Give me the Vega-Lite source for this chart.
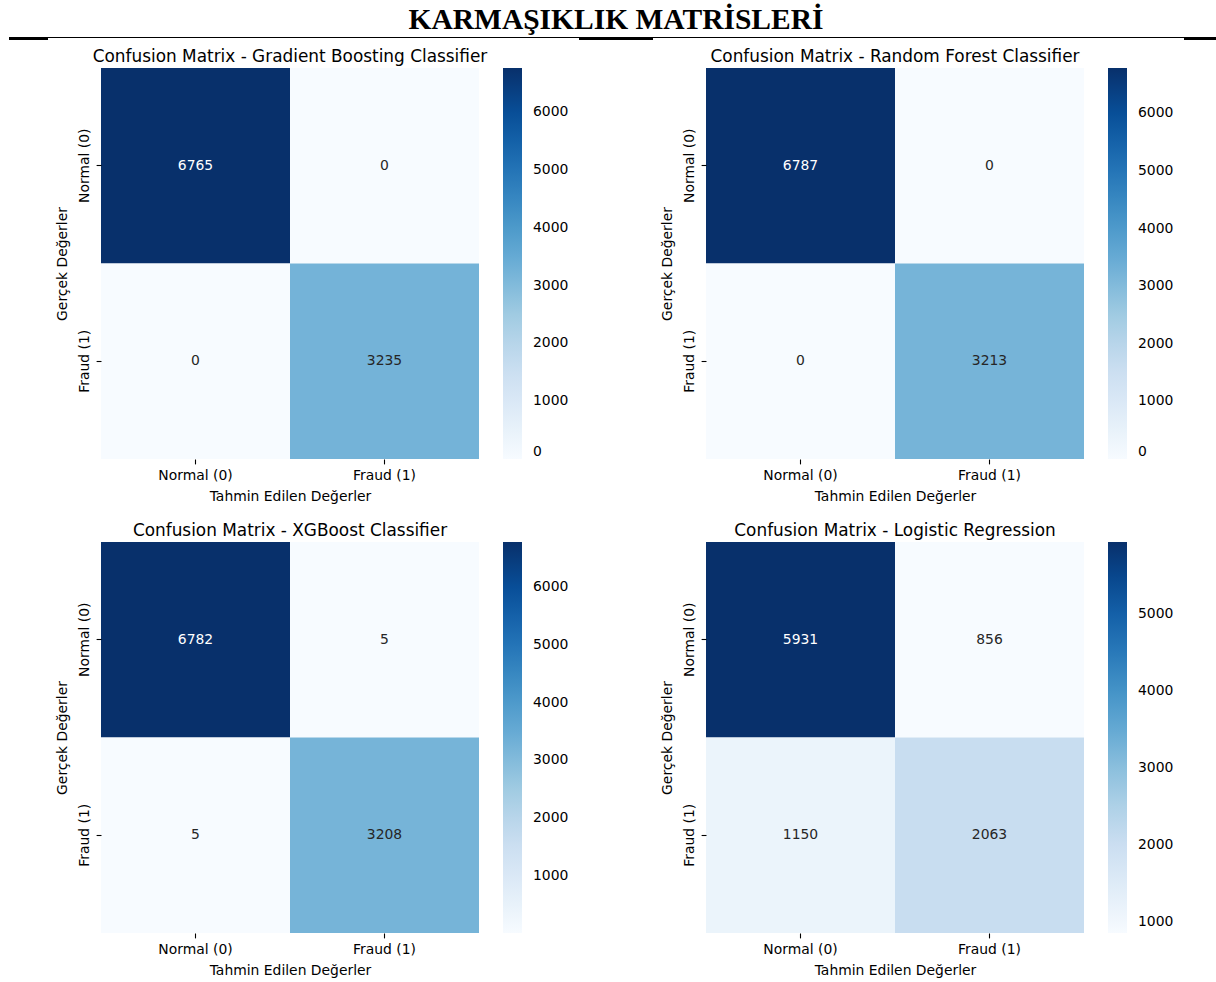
{
  "$schema": "https://vega.github.io/schema/vega-lite/v6.json",
  "padding": {"left": 8, "top": 0, "right": 0, "bottom": 0},
  "background": "white",
  "datasets": {
    "cm": [
      {"model": "Gradient Boosting Classifier", "actual": "Normal (0)", "pred": "Normal (0)", "count": 6765},
      {"model": "Gradient Boosting Classifier", "actual": "Normal (0)", "pred": "Fraud (1)", "count": 0},
      {"model": "Gradient Boosting Classifier", "actual": "Fraud (1)", "pred": "Normal (0)", "count": 0},
      {"model": "Gradient Boosting Classifier", "actual": "Fraud (1)", "pred": "Fraud (1)", "count": 3235},
      {"model": "Random Forest Classifier", "actual": "Normal (0)", "pred": "Normal (0)", "count": 6787},
      {"model": "Random Forest Classifier", "actual": "Normal (0)", "pred": "Fraud (1)", "count": 0},
      {"model": "Random Forest Classifier", "actual": "Fraud (1)", "pred": "Normal (0)", "count": 0},
      {"model": "Random Forest Classifier", "actual": "Fraud (1)", "pred": "Fraud (1)", "count": 3213},
      {"model": "XGBoost Classifier", "actual": "Normal (0)", "pred": "Normal (0)", "count": 6782},
      {"model": "XGBoost Classifier", "actual": "Normal (0)", "pred": "Fraud (1)", "count": 5},
      {"model": "XGBoost Classifier", "actual": "Fraud (1)", "pred": "Normal (0)", "count": 5},
      {"model": "XGBoost Classifier", "actual": "Fraud (1)", "pred": "Fraud (1)", "count": 3208},
      {"model": "Logistic Regression", "actual": "Normal (0)", "pred": "Normal (0)", "count": 5931},
      {"model": "Logistic Regression", "actual": "Normal (0)", "pred": "Fraud (1)", "count": 856},
      {"model": "Logistic Regression", "actual": "Fraud (1)", "pred": "Normal (0)", "count": 1150},
      {"model": "Logistic Regression", "actual": "Fraud (1)", "pred": "Fraud (1)", "count": 2063}
    ]
  },
  "spacing": 8,
  "vconcat": [
    {
      "width": 1116,
      "height": 40,
      "data": {"values": [{}]},
      "encoding": {
        "y": {"datum": 37.5, "type": "quantitative", "scale": {"domain": [0, 40], "reverse": true, "nice": false, "zero": false}, "axis": null}
      },
      "layer": [
        {
          "mark": {"type": "text", "text": "KARMAŞIKLIK MATRİSLERİ", "font": "Liberation Serif", "fontSize": 29.5, "fontWeight": "bold", "color": "black", "align": "center", "baseline": "alphabetic"},
          "encoding": {
            "x": {"datum": 615, "type": "quantitative", "scale": {"domain": [100, 1216], "nice": false, "zero": false}, "axis": null},
            "y": {"datum": 29, "type": "quantitative"}
          }
        },
        {
          "mark": {"type": "rule", "color": "black", "strokeWidth": 1},
          "encoding": {
            "x": {"datum": 8, "type": "quantitative"},
            "x2": {"datum": 1216}
          }
        },
        {
          "mark": {"type": "rule", "color": "black", "strokeWidth": 2},
          "encoding": {
            "x": {"datum": 8, "type": "quantitative"},
            "x2": {"datum": 47},
            "y": {"datum": 39, "type": "quantitative"}
          }
        },
        {
          "mark": {"type": "rule", "color": "black", "strokeWidth": 2},
          "encoding": {
            "x": {"datum": 578, "type": "quantitative"},
            "x2": {"datum": 652},
            "y": {"datum": 39, "type": "quantitative"}
          }
        },
        {
          "mark": {"type": "rule", "color": "black", "strokeWidth": 2},
          "encoding": {
            "x": {"datum": 1183, "type": "quantitative"},
            "x2": {"datum": 1216},
            "y": {"datum": 39, "type": "quantitative"}
          }
        }
      ]
    },
    {
      "data": {"name": "cm"},
      "columns": 2,
      "bounds": "flush",
      "spacing": {"column": 227, "row": 83},
      "resolve": {"scale": {"color": "independent"}, "legend": {"color": "independent"}},
      "concat": [
        {
          "title": "Confusion Matrix - Gradient Boosting Classifier",
          "width": 378, "height": 391,
          "transform": [{"filter": "datum.model === 'Gradient Boosting Classifier'"}],
          "encoding": {
            "x": {"field": "pred", "type": "nominal", "sort": ["Normal (0)", "Fraud (1)"], "title": "Tahmin Edilen Değerler"},
            "y": {"field": "actual", "type": "nominal", "sort": ["Normal (0)", "Fraud (1)"], "title": "Gerçek Değerler"}
          },
          "layer": [
            {
              "mark": "rect",
              "encoding": {
                "color": {"field": "count", "type": "quantitative",
                  "scale": {"range": ["#f7fbff", "#deebf7", "#c6dbef", "#9ecae1", "#6baed6", "#4292c6", "#2171b5", "#08519c", "#08306b"], "interpolate": "rgb", "zero": false, "nice": false},
                  "legend": {"title": null, "values": [0, 1000, 2000, 3000, 4000, 5000, 6000], "format": "d", "gradientLength": 391, "labelOffset": 11}}
              }
            },
            {
              "mark": {"type": "text", "font": "DejaVu Sans", "fontSize": 13.9},
              "encoding": {
                "text": {"field": "count", "type": "quantitative", "format": "d"},
                "color": {"condition": {"test": "datum.count > 5000", "value": "white"}, "value": "#262626"}
              }
            }
          ]
        },
        {
          "title": "Confusion Matrix - Random Forest Classifier",
          "width": 378, "height": 391,
          "transform": [{"filter": "datum.model === 'Random Forest Classifier'"}],
          "encoding": {
            "x": {"field": "pred", "type": "nominal", "sort": ["Normal (0)", "Fraud (1)"], "title": "Tahmin Edilen Değerler"},
            "y": {"field": "actual", "type": "nominal", "sort": ["Normal (0)", "Fraud (1)"], "title": "Gerçek Değerler"}
          },
          "layer": [
            {
              "mark": "rect",
              "encoding": {
                "color": {"field": "count", "type": "quantitative",
                  "scale": {"range": ["#f7fbff", "#deebf7", "#c6dbef", "#9ecae1", "#6baed6", "#4292c6", "#2171b5", "#08519c", "#08306b"], "interpolate": "rgb", "zero": false, "nice": false},
                  "legend": {"title": null, "values": [0, 1000, 2000, 3000, 4000, 5000, 6000], "format": "d", "gradientLength": 391, "labelOffset": 11}}
              }
            },
            {
              "mark": {"type": "text", "font": "DejaVu Sans", "fontSize": 13.9},
              "encoding": {
                "text": {"field": "count", "type": "quantitative", "format": "d"},
                "color": {"condition": {"test": "datum.count > 5000", "value": "white"}, "value": "#262626"}
              }
            }
          ]
        },
        {
          "title": "Confusion Matrix - XGBoost Classifier",
          "width": 378, "height": 391,
          "transform": [{"filter": "datum.model === 'XGBoost Classifier'"}],
          "encoding": {
            "x": {"field": "pred", "type": "nominal", "sort": ["Normal (0)", "Fraud (1)"], "title": "Tahmin Edilen Değerler"},
            "y": {"field": "actual", "type": "nominal", "sort": ["Normal (0)", "Fraud (1)"], "title": "Gerçek Değerler"}
          },
          "layer": [
            {
              "mark": "rect",
              "encoding": {
                "color": {"field": "count", "type": "quantitative",
                  "scale": {"range": ["#f7fbff", "#deebf7", "#c6dbef", "#9ecae1", "#6baed6", "#4292c6", "#2171b5", "#08519c", "#08306b"], "interpolate": "rgb", "zero": false, "nice": false},
                  "legend": {"title": null, "values": [1000, 2000, 3000, 4000, 5000, 6000], "format": "d", "gradientLength": 391, "labelOffset": 11}}
              }
            },
            {
              "mark": {"type": "text", "font": "DejaVu Sans", "fontSize": 13.9},
              "encoding": {
                "text": {"field": "count", "type": "quantitative", "format": "d"},
                "color": {"condition": {"test": "datum.count > 5000", "value": "white"}, "value": "#262626"}
              }
            }
          ]
        },
        {
          "title": "Confusion Matrix - Logistic Regression",
          "width": 378, "height": 391,
          "transform": [{"filter": "datum.model === 'Logistic Regression'"}],
          "encoding": {
            "x": {"field": "pred", "type": "nominal", "sort": ["Normal (0)", "Fraud (1)"], "title": "Tahmin Edilen Değerler"},
            "y": {"field": "actual", "type": "nominal", "sort": ["Normal (0)", "Fraud (1)"], "title": "Gerçek Değerler"}
          },
          "layer": [
            {
              "mark": "rect",
              "encoding": {
                "color": {"field": "count", "type": "quantitative",
                  "scale": {"range": ["#f7fbff", "#deebf7", "#c6dbef", "#9ecae1", "#6baed6", "#4292c6", "#2171b5", "#08519c", "#08306b"], "interpolate": "rgb", "zero": false, "nice": false},
                  "legend": {"title": null, "values": [1000, 2000, 3000, 4000, 5000], "format": "d", "gradientLength": 391, "labelOffset": 11}}
              }
            },
            {
              "mark": {"type": "text", "font": "DejaVu Sans", "fontSize": 13.9},
              "encoding": {
                "text": {"field": "count", "type": "quantitative", "format": "d"},
                "color": {"condition": {"test": "datum.count > 5000", "value": "white"}, "value": "#262626"}
              }
            }
          ]
        }
      ]
    }
  ],
  "config": {
    "font": "DejaVu Sans",
    "view": {"stroke": null},
    "title": {"font": "DejaVu Sans", "fontSize": 16.9, "fontWeight": "normal", "color": "black", "offset": 2, "anchor": "middle"},
    "axis": {
      "labelFont": "DejaVu Sans", "labelFontSize": 13.9, "labelColor": "black",
      "titleFont": "DejaVu Sans", "titleFontSize": 13.9, "titleFontWeight": "normal", "titleColor": "black",
      "domain": false, "grid": false, "tickColor": "black", "tickSize": 4.9, "tickWidth": 1.1, "labelPadding": 4.9
    },
    "axisX": {"labelAngle": 0, "titlePadding": 6.5},
    "axisY": {"labelAngle": -90, "titlePadding": 8},
    "legend": {
      "gradientThickness": 19, "gradientStrokeWidth": 0,
      "labelFont": "DejaVu Sans", "labelFontSize": 13.9, "labelColor": "black",
      "offset": 24, "labelOffset": 11, "padding": 0
    }
  }
}
